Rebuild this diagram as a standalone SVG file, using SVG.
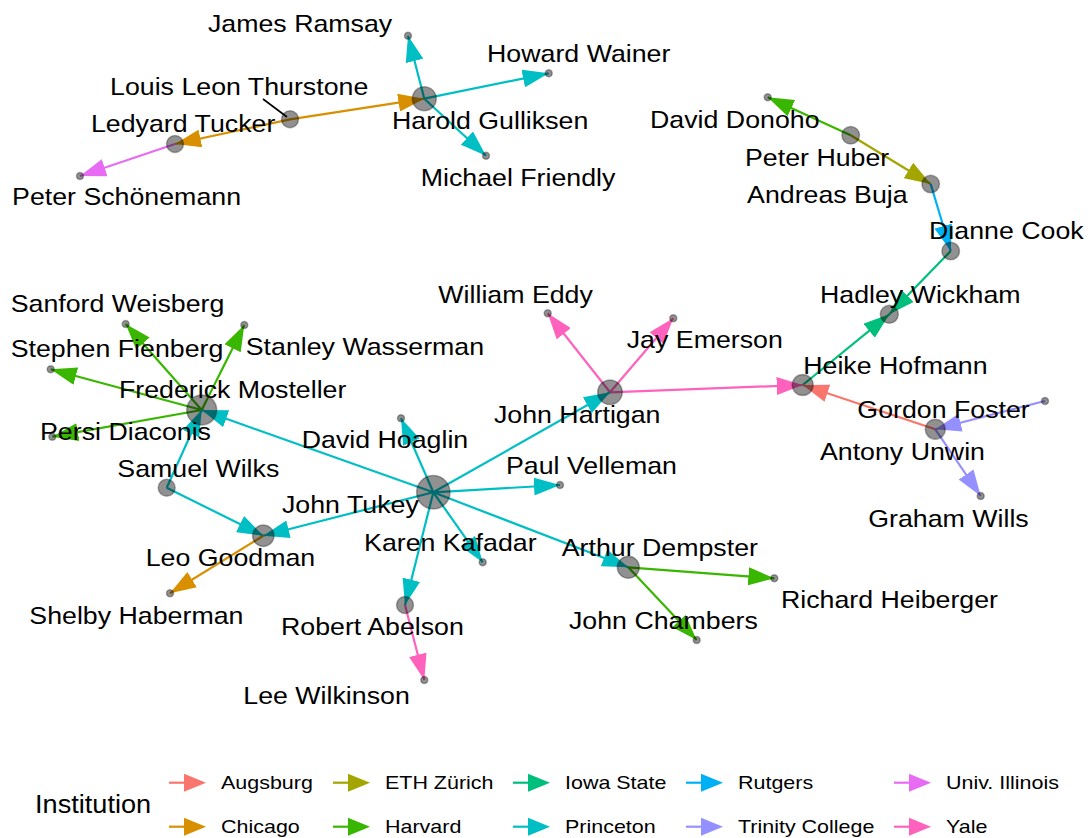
<svg xmlns="http://www.w3.org/2000/svg" width="1091" height="838" viewBox="0 0 1091 838">
<style>
.e{stroke-width:2.2;fill:none}
.aug{stroke:#F8766D}.chi{stroke:#D89000}.eth{stroke:#A3A500}.har{stroke:#39B600}
.iow{stroke:#00BF7D}.pri{stroke:#00BFC4}.rut{stroke:#00B0F6}.tri{stroke:#9590FF}.ill{stroke:#E76BF3}.yal{stroke:#FF62BC}
.n{fill:#000;fill-opacity:0.43;stroke:#000;stroke-opacity:0.3;stroke-width:1.5}
.lbl{font-family:"Liberation Sans",Arial,sans-serif;font-size:24px;fill:#000}
.leg{font-family:"Liberation Sans",Arial,sans-serif;font-size:19px;fill:#000}
.ttl{font-family:"Liberation Sans",Arial,sans-serif;font-size:25px;fill:#000}
.lead{stroke:#000;stroke-width:1.6}
</style>
<defs>
<marker id="m-aug" markerUnits="userSpaceOnUse" markerWidth="26" markerHeight="18" refX="26" refY="9" orient="auto"><path d="M0,0L26,9L0,18Z" fill="#F8766D"/></marker>
<marker id="m-chi" markerUnits="userSpaceOnUse" markerWidth="26" markerHeight="18" refX="26" refY="9" orient="auto"><path d="M0,0L26,9L0,18Z" fill="#D89000"/></marker>
<marker id="m-eth" markerUnits="userSpaceOnUse" markerWidth="26" markerHeight="18" refX="26" refY="9" orient="auto"><path d="M0,0L26,9L0,18Z" fill="#A3A500"/></marker>
<marker id="m-har" markerUnits="userSpaceOnUse" markerWidth="26" markerHeight="18" refX="26" refY="9" orient="auto"><path d="M0,0L26,9L0,18Z" fill="#39B600"/></marker>
<marker id="m-iow" markerUnits="userSpaceOnUse" markerWidth="26" markerHeight="18" refX="26" refY="9" orient="auto"><path d="M0,0L26,9L0,18Z" fill="#00BF7D"/></marker>
<marker id="m-pri" markerUnits="userSpaceOnUse" markerWidth="26" markerHeight="18" refX="26" refY="9" orient="auto"><path d="M0,0L26,9L0,18Z" fill="#00BFC4"/></marker>
<marker id="m-rut" markerUnits="userSpaceOnUse" markerWidth="26" markerHeight="18" refX="26" refY="9" orient="auto"><path d="M0,0L26,9L0,18Z" fill="#00B0F6"/></marker>
<marker id="m-tri" markerUnits="userSpaceOnUse" markerWidth="26" markerHeight="18" refX="26" refY="9" orient="auto"><path d="M0,0L26,9L0,18Z" fill="#9590FF"/></marker>
<marker id="m-ill" markerUnits="userSpaceOnUse" markerWidth="26" markerHeight="18" refX="26" refY="9" orient="auto"><path d="M0,0L26,9L0,18Z" fill="#E76BF3"/></marker>
<marker id="m-yal" markerUnits="userSpaceOnUse" markerWidth="26" markerHeight="18" refX="26" refY="9" orient="auto"><path d="M0,0L26,9L0,18Z" fill="#FF62BC"/></marker>
</defs>
<rect width="1091" height="838" fill="#fff"/>
<g id="connectors">
<line class="e chi" x1="290" y1="119.3" x2="424.3" y2="98.7" marker-end="url(#m-chi)"/>
<line class="e chi" x1="290" y1="119.3" x2="175" y2="144" marker-end="url(#m-chi)"/>
<line class="e ill" x1="175" y1="144" x2="80" y2="176" marker-end="url(#m-ill)"/>
<line class="e pri" x1="424.3" y1="98.7" x2="408" y2="35.7" marker-end="url(#m-pri)"/>
<line class="e pri" x1="424.3" y1="98.7" x2="548.7" y2="73.3" marker-end="url(#m-pri)"/>
<line class="e pri" x1="424.3" y1="98.7" x2="486" y2="155.7" marker-end="url(#m-pri)"/>
<line class="e har" x1="850.7" y1="135.3" x2="767.7" y2="97.3" marker-end="url(#m-har)"/>
<line class="e eth" x1="850.7" y1="135.3" x2="930.7" y2="184" marker-end="url(#m-eth)"/>
<line class="e rut" x1="930.7" y1="184" x2="950.7" y2="251" marker-end="url(#m-rut)"/>
<line class="e iow" x1="950.7" y1="251" x2="889.3" y2="314.3" marker-end="url(#m-iow)"/>
<line class="e iow" x1="802.7" y1="385" x2="889.3" y2="314.3" marker-end="url(#m-iow)"/>
<line class="e yal" x1="610" y1="392.3" x2="802.7" y2="385" marker-end="url(#m-yal)"/>
<line class="e aug" x1="935.3" y1="429.3" x2="802.7" y2="385" marker-end="url(#m-aug)"/>
<line class="e tri" x1="1045" y1="401" x2="935.3" y2="429.3" marker-end="url(#m-tri)"/>
<line class="e tri" x1="935.3" y1="429.3" x2="980.7" y2="496" marker-end="url(#m-tri)"/>
<line class="e yal" x1="610" y1="392.3" x2="547.7" y2="313.3" marker-end="url(#m-yal)"/>
<line class="e yal" x1="610" y1="392.3" x2="673.3" y2="318.3" marker-end="url(#m-yal)"/>
<line class="e pri" x1="433.3" y1="492.3" x2="610" y2="392.3" marker-end="url(#m-pri)"/>
<line class="e pri" x1="433.3" y1="492.3" x2="401" y2="418.3" marker-end="url(#m-pri)"/>
<line class="e pri" x1="433.3" y1="492.3" x2="560" y2="485" marker-end="url(#m-pri)"/>
<line class="e pri" x1="433.3" y1="492.3" x2="482.7" y2="562.3" marker-end="url(#m-pri)"/>
<line class="e pri" x1="433.3" y1="492.3" x2="628.3" y2="567.3" marker-end="url(#m-pri)"/>
<line class="e pri" x1="433.3" y1="492.3" x2="405" y2="605" marker-end="url(#m-pri)"/>
<line class="e pri" x1="433.3" y1="492.3" x2="201.7" y2="410" marker-end="url(#m-pri)"/>
<line class="e pri" x1="433.3" y1="492.3" x2="263.3" y2="535.7" marker-end="url(#m-pri)"/>
<line class="e har" x1="628.3" y1="567.3" x2="774.3" y2="578.3" marker-end="url(#m-har)"/>
<line class="e har" x1="628.3" y1="567.3" x2="696.7" y2="640" marker-end="url(#m-har)"/>
<line class="e yal" x1="405" y1="605" x2="424.3" y2="680" marker-end="url(#m-yal)"/>
<line class="e har" x1="201.7" y1="410" x2="125.7" y2="324" marker-end="url(#m-har)"/>
<line class="e har" x1="201.7" y1="410" x2="244.3" y2="325" marker-end="url(#m-har)"/>
<line class="e har" x1="201.7" y1="410" x2="50.7" y2="369.3" marker-end="url(#m-har)"/>
<line class="e har" x1="201.7" y1="410" x2="52.3" y2="436.7" marker-end="url(#m-har)"/>
<line class="e pri" x1="166.7" y1="487.7" x2="201.7" y2="410" marker-end="url(#m-pri)"/>
<line class="e pri" x1="166.7" y1="487.7" x2="263.3" y2="535.7" marker-end="url(#m-pri)"/>
<line class="e chi" x1="263.3" y1="535.7" x2="170" y2="593.3" marker-end="url(#m-chi)"/>
<line class="lead" x1="263" y1="99" x2="287" y2="117"/>
</g>
<g id="n-ramsay"><circle class="n" cx="408" cy="35.7" r="3.5"/><text class="lbl" transform="scale(1.115 1)" x="186.5" y="31.7">James Ramsay</text></g>
<g id="n-wainer"><circle class="n" cx="548.7" cy="73.3" r="3.5"/><text class="lbl" transform="scale(1.115 1)" x="436.8" y="61.7">Howard Wainer</text></g>
<g id="n-thurstone"><circle class="n" cx="290" cy="119.3" r="8.5"/><text class="lbl" transform="scale(1.115 1)" x="98.7" y="95">Louis Leon Thurstone</text></g>
<g id="n-gulliksen"><circle class="n" cx="424.3" cy="98.7" r="12"/><text class="lbl" transform="scale(1.115 1)" x="351.6" y="129">Harold Gulliksen</text></g>
<g id="n-tucker"><circle class="n" cx="175" cy="144" r="8.5"/><text class="lbl" transform="scale(1.115 1)" x="81.6" y="131.7">Ledyard Tucker</text></g>
<g id="n-friendly"><circle class="n" cx="486" cy="155.7" r="3.5"/><text class="lbl" transform="scale(1.115 1)" x="377.3" y="186">Michael Friendly</text></g>
<g id="n-schonemann"><circle class="n" cx="80" cy="176" r="3.5"/><text class="lbl" transform="scale(1.115 1)" x="10.8" y="205">Peter Schönemann</text></g>
<g id="n-donoho"><circle class="n" cx="767.7" cy="97.3" r="3.5"/><text class="lbl" transform="scale(1.115 1)" x="583" y="127.7">David Donoho</text></g>
<g id="n-huber"><circle class="n" cx="850.7" cy="135.3" r="8.8"/><text class="lbl" transform="scale(1.115 1)" x="668.2" y="166">Peter Huber</text></g>
<g id="n-buja"><circle class="n" cx="930.7" cy="184" r="8.8"/><text class="lbl" transform="scale(1.115 1)" x="670" y="202.7">Andreas Buja</text></g>
<g id="n-cook"><circle class="n" cx="950.7" cy="251" r="8.8"/><text class="lbl" transform="scale(1.115 1)" x="833.2" y="239.3">Dianne Cook</text></g>
<g id="n-wickham"><circle class="n" cx="889.3" cy="314.3" r="9"/><text class="lbl" transform="scale(1.115 1)" x="735.4" y="303.3">Hadley Wickham</text></g>
<g id="n-hofmann"><circle class="n" cx="802.7" cy="385" r="10.5"/><text class="lbl" transform="scale(1.115 1)" x="720.4" y="374">Heike Hofmann</text></g>
<g id="n-foster"><circle class="n" cx="1045" cy="401" r="3.5"/><text class="lbl" transform="scale(1.115 1)" x="768.9" y="417.7">Gordon Foster</text></g>
<g id="n-unwin"><circle class="n" cx="935.3" cy="429.3" r="10"/><text class="lbl" transform="scale(1.115 1)" x="735.4" y="460">Antony Unwin</text></g>
<g id="n-wills"><circle class="n" cx="980.7" cy="496" r="3.5"/><text class="lbl" transform="scale(1.115 1)" x="778.7" y="526.7">Graham Wills</text></g>
<g id="n-eddy"><circle class="n" cx="547.7" cy="313.3" r="3.5"/><text class="lbl" transform="scale(1.115 1)" x="393.1" y="302.7">William Eddy</text></g>
<g id="n-emerson"><circle class="n" cx="673.3" cy="318.3" r="3.5"/><text class="lbl" transform="scale(1.115 1)" x="562.1" y="348.3">Jay Emerson</text></g>
<g id="n-hartigan"><circle class="n" cx="610" cy="392.3" r="12.3"/><text class="lbl" transform="scale(1.115 1)" x="443" y="422.7">John Hartigan</text></g>
<g id="n-weisberg"><circle class="n" cx="125.7" cy="324" r="3.5"/><text class="lbl" transform="scale(1.115 1)" x="9.6" y="312.3">Sanford Weisberg</text></g>
<g id="n-wasserman"><circle class="n" cx="244.3" cy="325" r="3.5"/><text class="lbl" transform="scale(1.115 1)" x="220.4" y="355">Stanley Wasserman</text></g>
<g id="n-fienberg"><circle class="n" cx="50.7" cy="369.3" r="3.5"/><text class="lbl" transform="scale(1.115 1)" x="9.6" y="357.3">Stephen Fienberg</text></g>
<g id="n-mosteller"><circle class="n" cx="201.7" cy="410" r="15"/><text class="lbl" transform="scale(1.115 1)" x="106.7" y="398.3">Frederick Mosteller</text></g>
<g id="n-diaconis"><circle class="n" cx="52.3" cy="436.7" r="3.5"/><text class="lbl" transform="scale(1.115 1)" x="35.9" y="440">Persi Diaconis</text></g>
<g id="n-hoaglin"><circle class="n" cx="401" cy="418.3" r="3.5"/><text class="lbl" transform="scale(1.115 1)" x="270.6" y="448.3">David Hoaglin</text></g>
<g id="n-wilks"><circle class="n" cx="166.7" cy="487.7" r="8.5"/><text class="lbl" transform="scale(1.115 1)" x="105.2" y="476.7">Samuel Wilks</text></g>
<g id="n-velleman"><circle class="n" cx="560" cy="485" r="3.5"/><text class="lbl" transform="scale(1.115 1)" x="453.8" y="474">Paul Velleman</text></g>
<g id="n-tukey"><circle class="n" cx="433.3" cy="492.3" r="16.7"/><text class="lbl" transform="scale(1.115 1)" x="252.9" y="513.3">John Tukey</text></g>
<g id="n-kafadar"><circle class="n" cx="482.7" cy="562.3" r="3.5"/><text class="lbl" transform="scale(1.115 1)" x="326.5" y="550.7">Karen Kafadar</text></g>
<g id="n-dempster"><circle class="n" cx="628.3" cy="567.3" r="11"/><text class="lbl" transform="scale(1.115 1)" x="503.8" y="556">Arthur Dempster</text></g>
<g id="n-goodman"><circle class="n" cx="263.3" cy="535.7" r="10.7"/><text class="lbl" transform="scale(1.115 1)" x="130.7" y="566">Leo Goodman</text></g>
<g id="n-heiberger"><circle class="n" cx="774.3" cy="578.3" r="3.5"/><text class="lbl" transform="scale(1.115 1)" x="700.4" y="608.3">Richard Heiberger</text></g>
<g id="n-chambers"><circle class="n" cx="696.7" cy="640" r="3.5"/><text class="lbl" transform="scale(1.115 1)" x="510.3" y="629.3">John Chambers</text></g>
<g id="n-haberman"><circle class="n" cx="170" cy="593.3" r="3.5"/><text class="lbl" transform="scale(1.115 1)" x="26.3" y="624.3">Shelby Haberman</text></g>
<g id="n-abelson"><circle class="n" cx="405" cy="605" r="8.5"/><text class="lbl" transform="scale(1.115 1)" x="252" y="635">Robert Abelson</text></g>
<g id="n-wilkinson"><circle class="n" cx="424.3" cy="680" r="3.5"/><text class="lbl" transform="scale(1.115 1)" x="218.2" y="704">Lee Wilkinson</text></g>
<g id="legend">
<text class="ttl" transform="scale(1.085 1)" x="32.3" y="813.3">Institution</text>
<g id="leg-aug"><line class="e aug" x1="169" y1="782.7" x2="190" y2="782.7"/><path d="M184,773.7L206,782.7L184,791.7Z" fill="#F8766D"/><text class="leg" transform="scale(1.13 1)" x="195.6" y="789.3">Augsburg</text></g>
<g id="leg-chi"><line class="e chi" x1="169" y1="826.7" x2="190" y2="826.7"/><path d="M184,817.7L206,826.7L184,835.7Z" fill="#D89000"/><text class="leg" transform="scale(1.13 1)" x="195.6" y="833.3">Chicago</text></g>
<g id="leg-eth"><line class="e eth" x1="333" y1="782.7" x2="354" y2="782.7"/><path d="M348,773.7L370,782.7L348,791.7Z" fill="#A3A500"/><text class="leg" transform="scale(1.13 1)" x="340.7" y="789.3">ETH Zürich</text></g>
<g id="leg-har"><line class="e har" x1="333" y1="826.7" x2="354" y2="826.7"/><path d="M348,817.7L370,826.7L348,835.7Z" fill="#39B600"/><text class="leg" transform="scale(1.13 1)" x="340.7" y="833.3">Harvard</text></g>
<g id="leg-iow"><line class="e iow" x1="513" y1="782.7" x2="534" y2="782.7"/><path d="M528,773.7L550,782.7L528,791.7Z" fill="#00BF7D"/><text class="leg" transform="scale(1.13 1)" x="500" y="789.3">Iowa State</text></g>
<g id="leg-pri"><line class="e pri" x1="513" y1="826.7" x2="534" y2="826.7"/><path d="M528,817.7L550,826.7L528,835.7Z" fill="#00BFC4"/><text class="leg" transform="scale(1.13 1)" x="500" y="833.3">Princeton</text></g>
<g id="leg-rut"><line class="e rut" x1="686" y1="782.7" x2="707" y2="782.7"/><path d="M701,773.7L723,782.7L701,791.7Z" fill="#00B0F6"/><text class="leg" transform="scale(1.13 1)" x="653.1" y="789.3">Rutgers</text></g>
<g id="leg-tri"><line class="e tri" x1="686" y1="826.7" x2="707" y2="826.7"/><path d="M701,817.7L723,826.7L701,835.7Z" fill="#9590FF"/><text class="leg" transform="scale(1.13 1)" x="653.1" y="833.3">Trinity College</text></g>
<g id="leg-ill"><line class="e ill" x1="894" y1="782.7" x2="915" y2="782.7"/><path d="M909,773.7L931,782.7L909,791.7Z" fill="#E76BF3"/><text class="leg" transform="scale(1.13 1)" x="837.2" y="789.3">Univ. Illinois</text></g>
<g id="leg-yal"><line class="e yal" x1="894" y1="826.7" x2="915" y2="826.7"/><path d="M909,817.7L931,826.7L909,835.7Z" fill="#FF62BC"/><text class="leg" transform="scale(1.13 1)" x="837.2" y="833.3">Yale</text></g>
</g>
</svg>
